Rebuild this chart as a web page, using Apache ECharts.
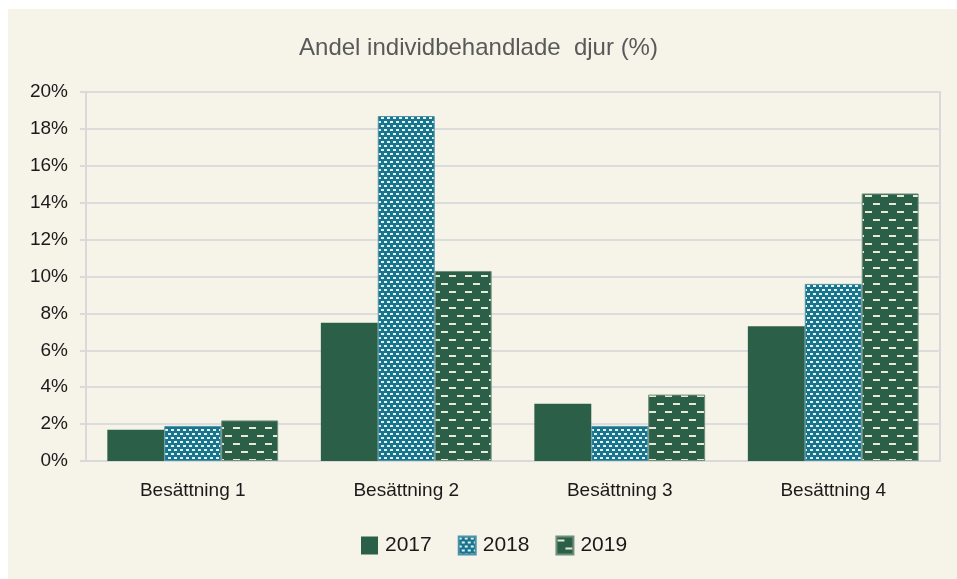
<!DOCTYPE html>
<html>
<head>
<meta charset="utf-8">
<script src="https://cdn.jsdelivr.net/npm/echarts@6/dist/echarts.min.js"></script>
<style>
  html, body { margin: 0; padding: 0; background: #ffffff; }
  #wrap { position: absolute; left: 8px; top: 9px; width: 949px; height: 570px; background: #f6f4e8; }
  #main { position: absolute; left: -8px; top: -9px; width: 957px; height: 579px; }
</style>
</head>
<body>
<div id="wrap"><div id="main"></div></div>
<script>
// data
var categories = ['Besättning 1', 'Besättning 2', 'Besättning 3', 'Besättning 4'];
var years = ['2017', '2018', '2019'];
var v2017 = [1.7, 7.5, 3.1, 7.3];
var v2018 = [1.9, 18.7, 1.9, 9.6];
var v2019 = [2.2, 10.3, 3.6, 14.5];

// pattern fills
function brickPattern() {
    var c = document.createElement('canvas');
    c.width = 6; c.height = 8;
    var ctx = c.getContext('2d');
    ctx.fillStyle = '#17758f';
    ctx.fillRect(0, 0, 6, 8);
    ctx.fillStyle = '#e8f1ee';
    ctx.fillRect(0, 1, 3, 2);
    ctx.fillRect(3, 5, 3, 2);
    return c;
}
function dashPattern() {
    var c = document.createElement('canvas');
    c.width = 16; c.height = 16;
    var ctx = c.getContext('2d');
    ctx.fillStyle = '#2c5f48';
    ctx.fillRect(0, 0, 16, 16);
    ctx.fillStyle = '#e6e8d8';
    ctx.fillRect(1, 3, 7, 2);
    ctx.fillRect(9, 11, 7, 2);
    return c;
}

var myChart = echarts.init(document.getElementById('main'));
var textFont = 'Liberation Sans, Arial, sans-serif';

myChart.setOption({
    backgroundColor: 'transparent',
    title: {
        text: 'Andel individbehandlade  djur (%)',
        left: 'center',
        top: 31,
        textStyle: {
            fontFamily: textFont,
            fontWeight: 'normal',
            fontSize: 24,
            color: '#595959'
        }
    },
    legend: {
        bottom: 18,
        left: 356,
        icon: 'rect',
        itemWidth: 17,
        itemHeight: 18,
        itemGap: 26,
        textStyle: { fontFamily: textFont, fontSize: 21, color: '#1a1a1a', padding: [0, 0, 0, 2] },
        data: years
    },
    grid: {
        left: 86, right: 17, top: 92, bottom: 118,
        show: true, borderColor: '#d9d9d9', borderWidth: 2, backgroundColor: 'transparent'
    },
    xAxis: {
        type: 'category',
        data: categories,
        axisLine: { lineStyle: { color: '#d9d9d9', width: 2 } },
        axisTick: { show: false },
        axisLabel: { fontFamily: textFont, fontSize: 19, color: '#1a1a1a', margin: 20 }
    },
    yAxis: {
        type: 'value',
        min: 0,
        max: 20,
        interval: 2,
        axisLine: { show: true, lineStyle: { color: '#d9d9d9', width: 2 } },
        axisTick: { show: true, length: 6, lineStyle: { color: '#d9d9d9', width: 2 } },
        splitLine: { lineStyle: { color: '#dcdcdc', width: 2 } },
        axisLabel: {
            fontFamily: textFont, fontSize: 19, color: '#1a1a1a', margin: 18,
            formatter: '{value}%'
        }
    },
    series: [
        {
            name: '2017', type: 'bar', data: v2017,
            barGap: '0%', barCategoryGap: '20%',
            itemStyle: { color: '#2c5f48' }
        },
        {
            name: '2018', type: 'bar', data: v2018,
            itemStyle: {
                color: { image: brickPattern(), repeat: 'repeat' },
                borderColor: '#4d93a8', borderWidth: 1
            }
        },
        {
            name: '2019', type: 'bar', data: v2019,
            itemStyle: {
                color: { image: dashPattern(), repeat: 'repeat' },
                borderColor: '#6f8f7c', borderWidth: 1
            }
        }
    ]
});
</script>
</body>
</html>
